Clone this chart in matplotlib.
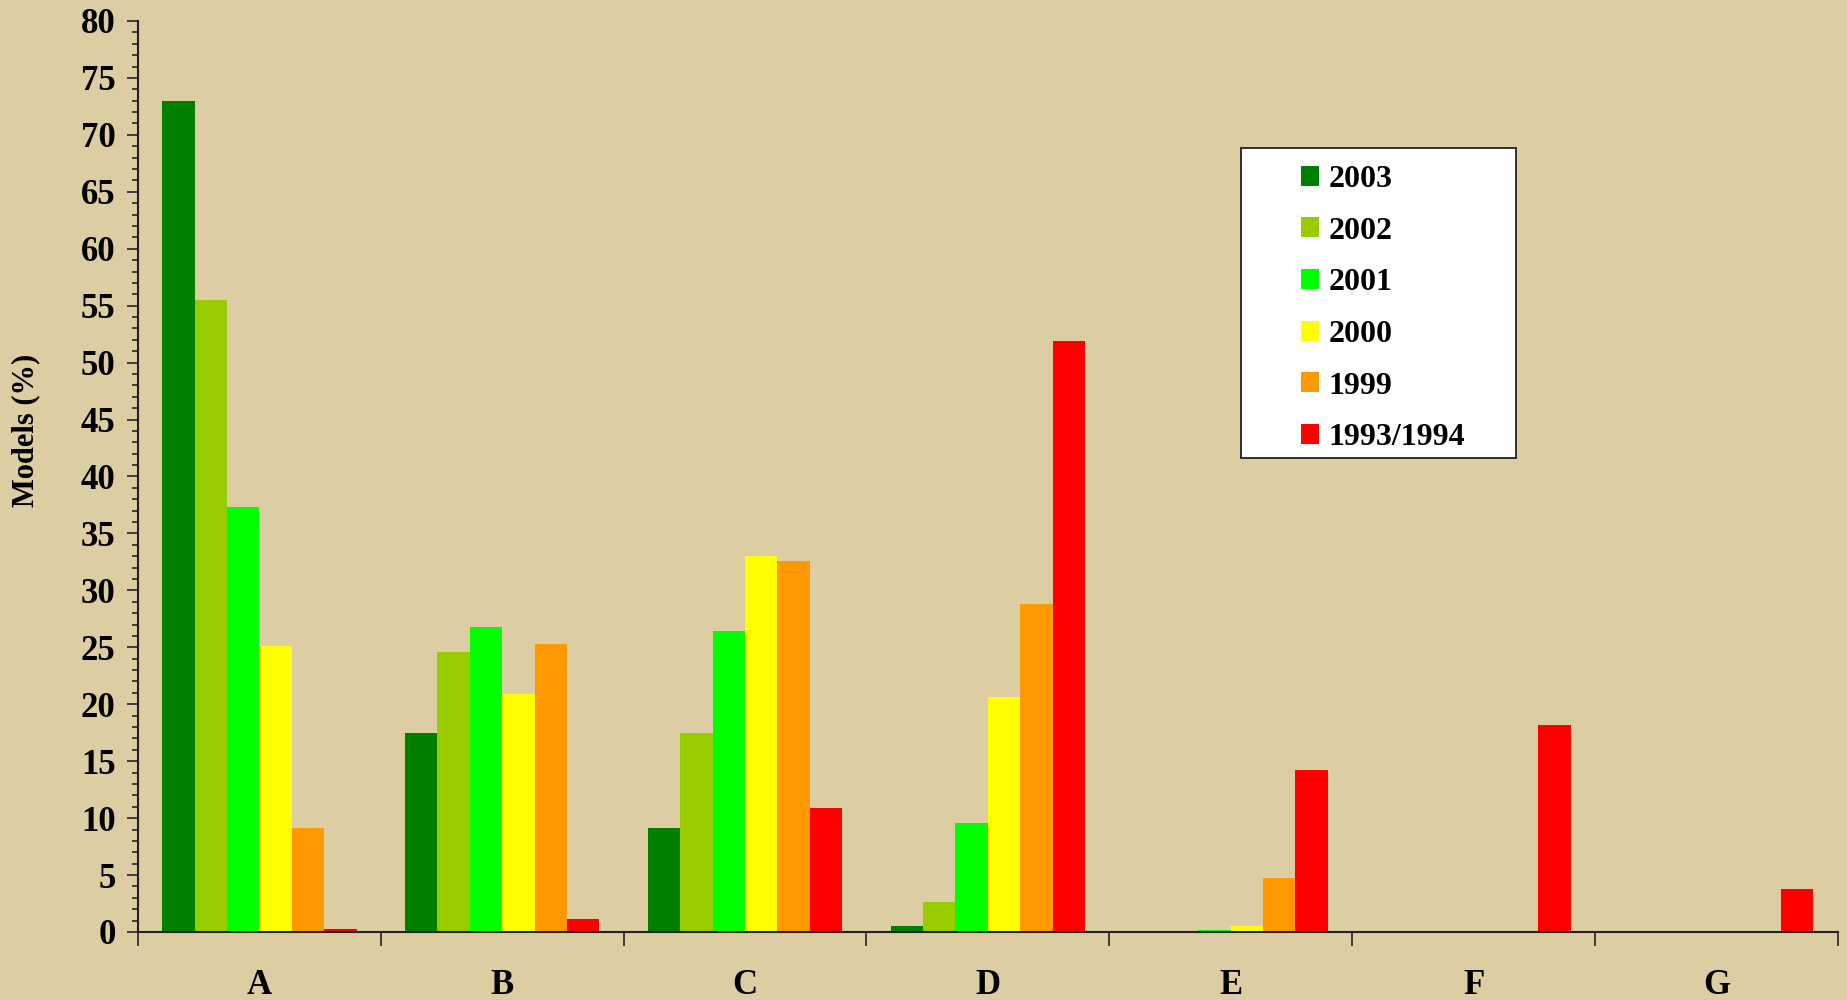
import numpy as np
import matplotlib.pyplot as plt
from matplotlib.patches import Rectangle

categories = ['A', 'B', 'C', 'D', 'E', 'F', 'G']
years = ['2003', '2002', '2001', '2000', '1999', '1993/1994']
colors = ['#008000', '#99CC00', '#00FF00', '#FFFF00', '#FF9900', '#FF0000']

v2003 = [73.0, 17.5, 9.1, 0.5, 0.0, 0.0, 0.0]
v2002 = [55.5, 24.6, 17.5, 2.6, 0.0, 0.0, 0.0]
v2001 = [37.3, 26.8, 26.4, 9.6, 0.2, 0.0, 0.0]
v2000 = [25.1, 20.9, 33.0, 20.6, 0.5, 0.0, 0.0]
v1999 = [9.1, 25.3, 32.6, 28.8, 4.7, 0.0, 0.0]
v1993 = [0.3, 1.1, 10.9, 51.9, 14.2, 18.2, 3.8]
series = [v2003, v2002, v2001, v2000, v1999, v1993]

bg = '#DCCDA2'
font = 'Liberation Serif'

fig = plt.figure(figsize=(18.47, 10), dpi=100, facecolor=bg)
ax = fig.add_axes([0.0747, 0.068, 0.9203, 0.911])
ax.set_facecolor(bg)

x = np.arange(len(categories))
w = 0.8 / len(series)
for j, (vals, c, lab) in enumerate(zip(series, colors, years)):
    ax.bar(x + (j - 2.5) * w, vals, width=w, color=c, label=lab, zorder=2)

ax.set_xlim(-0.5, len(categories) - 0.5)
ax.set_ylim(0, 80)

# y axis
ax.set_yticks(np.arange(0, 81, 5))
ax.set_yticks(np.arange(0, 81, 1), minor=True)
ax.tick_params(axis='y', which='major', length=8, width=1.3, color='#333333', pad=8)
ax.tick_params(axis='y', which='minor', length=4, width=1.3, color='#333333')
for t in ax.get_yticklabels():
    t.set_fontfamily(font)
    t.set_fontweight('bold')
    t.set_fontsize(25)

# x axis: labels centred, ticks at category boundaries
ax.set_xticks(x)
ax.set_xticklabels(categories, fontfamily=font, fontweight='bold', fontsize=25)
ax.set_xticks(np.arange(-0.5, len(categories), 1), minor=True)
ax.tick_params(axis='x', which='major', length=0, pad=27)
ax.tick_params(axis='x', which='minor', length=10, width=1.3, color='#333333')

for s in ['top', 'right']:
    ax.spines[s].set_visible(False)
for s in ['left', 'bottom']:
    ax.spines[s].set_color('#222222')
    ax.spines[s].set_linewidth(1.5)

ax.set_ylabel('Models (%)', fontfamily=font, fontweight='bold', fontsize=22)
ax.yaxis.set_label_coords(-0.0576, 0.551)

# legend box
ax.add_patch(Rectangle((0.649, 0.520), 0.1616, 0.3406, transform=ax.transAxes,
                       facecolor='white', edgecolor='#222222', linewidth=1.3, zorder=4))
leg = ax.legend(loc='upper left', bbox_to_anchor=(0.684, 0.842), frameon=False,
                prop={'family': font, 'weight': 'bold', 'size': 23},
                handlelength=0.58, handleheight=0.58, handletextpad=0.3,
                labelspacing=0.71, borderpad=0, borderaxespad=0)
leg.set_zorder(5)

fig.savefig('out.png', dpi=100, facecolor=bg)
